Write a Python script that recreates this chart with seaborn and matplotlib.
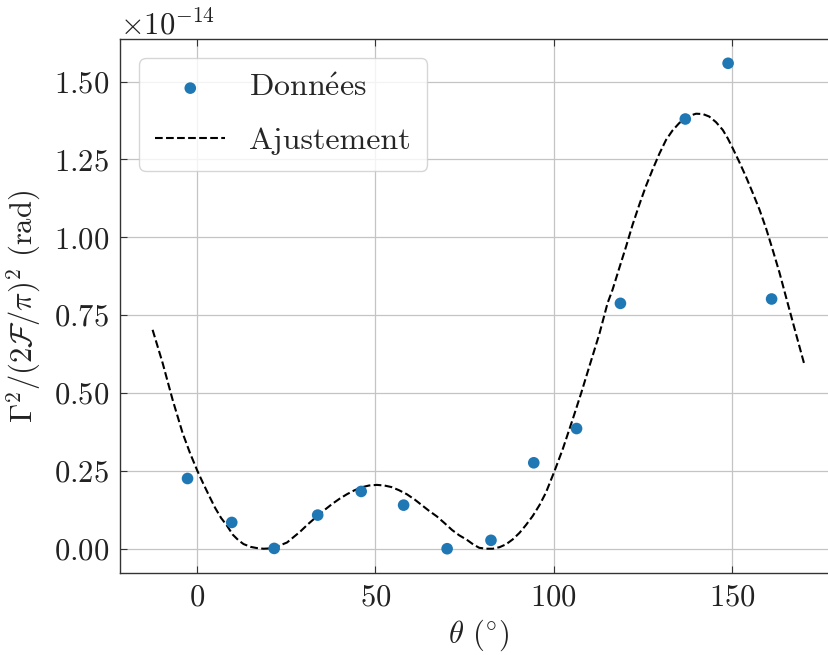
import matplotlib
matplotlib.use("Agg")
import matplotlib.pyplot as plt
import seaborn as sns
import pandas as pd

# Measured data
theta = [-2.7, 9.7, 21.6, 33.8, 46.0, 57.9, 70.1, 82.4, 94.4, 106.4, 118.7, 136.9, 148.9, 161.1]
gamma = [0.2255, 0.0844, 0.001, 0.108, 0.184, 0.140, 0.0, 0.027, 0.276, 0.386, 0.788, 1.380, 1.559, 0.802]

# Fit curve
fit_theta = [-12.5, -9.7, -6.9, -4.1, -2.0, 0.1, 1.8, 3.4, 5.0, 6.7, 8.3, 10.0, 11.5, 13.0,
             15.0, 16.8, 18.6, 20.4, 22.0, 25.2, 28.9, 31.0, 33.6, 36.0, 38.0, 40.0, 42.0,
             44.0, 46.0, 48.2, 50.4, 52.5, 54.5, 56.6, 58.8, 61.0, 63.0, 65.0, 67.2, 69.4,
             71.5, 73.5, 75.6, 77.4, 79.1, 81.0, 82.9, 84.8, 86.6, 88.5, 90.4, 92.2, 94.1,
             96.0, 97.8, 100.2, 102.5, 105.3, 107.7, 110.0, 112.8, 115.1, 116.5, 118.4,
             120.3, 122.1, 124.0, 125.8, 127.7, 129.6, 131.5, 133.3, 135.2, 137.5, 139.9,
             141.8, 143.6, 145.5, 147.4, 148.8, 150.2, 152.0, 153.9, 155.8, 157.7, 159.6,
             161.4, 163.3, 165.1, 167.7, 170.3]
fit_gamma = [0.703, 0.597, 0.479, 0.372, 0.307, 0.249, 0.207, 0.169, 0.132, 0.099, 0.075, 0.045,
             0.028, 0.015, 0.006, 0.002, 0.0, 0.001, 0.005, 0.020, 0.055, 0.078, 0.104, 0.127,
             0.145, 0.161, 0.175, 0.187, 0.197, 0.203, 0.205, 0.203, 0.198, 0.188, 0.175, 0.158,
             0.140, 0.122, 0.104, 0.082, 0.060, 0.043, 0.029, 0.014, 0.003, 0.0, 0.0, 0.005,
             0.014, 0.030, 0.051, 0.076, 0.105, 0.140, 0.180, 0.249, 0.319, 0.415, 0.500, 0.586,
             0.690, 0.789, 0.832, 0.902, 0.971, 1.040, 1.105, 1.163, 1.217, 1.268, 1.313, 1.343,
             1.367, 1.388, 1.397, 1.396, 1.388, 1.370, 1.345, 1.318, 1.286, 1.243, 1.195, 1.143,
             1.089, 1.027, 0.960, 0.887, 0.810, 0.700, 0.591]

SCALE = 1e-14

sns.set_theme(style="whitegrid")
plt.rcParams.update({
    "font.family": ["cmr10", "DejaVu Serif"],
    "mathtext.fontset": "cm",
    "axes.formatter.use_mathtext": True,
    "axes.unicode_minus": False,
})

df_pts = pd.DataFrame({"theta": theta, "g": [v * SCALE for v in gamma]})
df_fit = pd.DataFrame({"theta": fit_theta, "g": [v * SCALE for v in fit_gamma]})

fig = plt.figure(figsize=(8.29, 6.55), dpi=100)
ax = fig.add_axes([120 / 829, (655 - 573) / 655, 717 / 829, 534 / 655])

sns.scatterplot(data=df_pts, x="theta", y="g", ax=ax, s=70, color="#1f77b4",
                edgecolor="none", label=r"$\mathrm{Donn\acute{e}es}$", zorder=3)
sns.lineplot(data=df_fit, x="theta", y="g", ax=ax, color="black", lw=1.5,
             linestyle="--", label="Ajustement", zorder=2, sort=False)

ax.margins(x=0.05, y=0.05)
ax.set_yticks([v * SCALE for v in [0.0, 0.25, 0.5, 0.75, 1.0, 1.25, 1.5]])
ax.set_xticks([0, 50, 100, 150])

ax.grid(True, color="#c4c4c4", lw=0.9)
for s in ax.spines.values():
    s.set_color("#333333")
    s.set_linewidth(1.0)
ax.tick_params(direction="in", length=5, width=0.8, colors="#333333",
               labelsize=22, labelcolor="#222222", top=True, right=True,
               bottom=True, left=True, pad=8)
ax.yaxis.get_offset_text().set_fontsize(22)

ax.set_xlabel(r"$\theta$ ($^{\circ}$)", fontsize=22, color="#222222", labelpad=4)
ax.set_ylabel(r"$\Gamma^2/(2\mathcal{F}/\pi)^2$ (rad)", fontsize=22, color="#222222", labelpad=8)

leg = ax.legend(loc="upper left", fontsize=23, frameon=True, fancybox=True,
                framealpha=0.8, edgecolor="#cccccc", handlelength=2.2,
                handletextpad=0.75, labelspacing=0.75, borderpad=0.5,
                borderaxespad=0.6)

fig.savefig("out.png", dpi=100)
